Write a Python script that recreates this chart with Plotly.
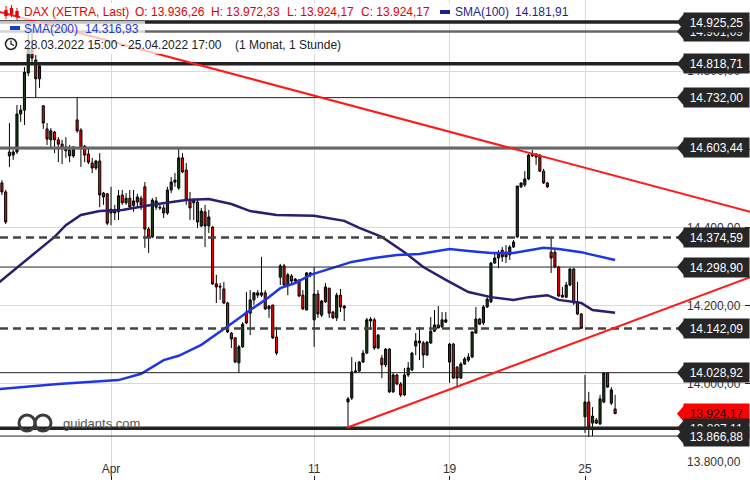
import plotly.graph_objects as go

# ---------------- data ----------------
# hourly candles 28.03.2022 15:00 ... 25.04.2022 17:00 (XETRA, 9 candles / day)
sessions = [("28.03.", 3), ("29.03.", 9), ("30.03.", 9), ("31.03.", 9), ("01.04.", 9),
            ("04.04.", 9), ("05.04.", 9), ("06.04.", 9), ("07.04.", 9), ("08.04.", 9),
            ("11.04.", 9), ("12.04.", 9), ("13.04.", 9), ("14.04.", 9),
            ("19.04.", 9), ("20.04.", 9), ("21.04.", 9), ("22.04.", 9), ("25.04.", 9)]

open_ = [14534, 14514, 14491, 14593, 14585, 14593, 14690, 14700, 14795, 14859, 14828, 14780,
         14711, 14652, 14624, 14644, 14624, 14613, 14596, 14598, 14583,
         14675, 14649, 14608, 14588, 14565, 14552, 14570, 14488, 14486,
         14437, 14437, 14440, 14483, 14463, 14475, 14456, 14465, 14475,
         14504, 14396, 14376, 14452, 14452, 14450, 14437, 14496, 14516,
         14501, 14578, 14547, 14470, 14463, 14465, 14404, 14440, 14404,
         14401, 14256, 14250, 14243, 14207, 14130, 14118, 14054, 14095,
         14184, 14181, 14215, 14227, 14233, 14233, 14192, 14202, 14120,
         14273, 14302, 14253, 14276, 14263, 14266, 14227, 14189, 14279,
         14164, 14230, 14176, 14210, 14245, 14184, 14169, 14227, 14199,
         13954, 13964, 14031, 14033, 14056, 14079, 14161, 14164, 14092,
         14066, 14049, 14089, 13980, 14023, 14000, 13972, 14023, 14036,
         14097, 14110, 14105, 14074, 14105, 14135, 14151, 14146, 14158,
         14056, 14102, 14043, 14015, 14051, 14061, 14069, 14130, 14166,
         14156, 14197, 14210, 14309, 14322, 14342, 14337, 14330, 14350,
         14376, 14504, 14509, 14524, 14583, 14588, 14585, 14544, 14514,
         14337, 14337, 14299, 14227, 14222, 14253, 14294, 14210, 14179,
         13916, 13954, 13900, 13908, 13898, 13954, 14028, 13951, 13936.26]
high = [14542, 14521, 14496, 14667, 14598, 14713, 14713, 14810, 14925.25, 14910, 14841, 14820,
        14713, 14667, 14654, 14647, 14631, 14624, 14631, 14611, 14608,
        14732, 14654, 14611, 14601, 14578, 14573, 14590, 14491, 14488,
        14504, 14458, 14496, 14496, 14488, 14496, 14496, 14486, 14481,
        14516, 14401, 14475, 14478, 14458, 14458, 14504, 14529, 14539,
        14601, 14590, 14565, 14491, 14475, 14475, 14450, 14458, 14445,
        14404, 14279, 14258, 14261, 14210, 14133, 14118, 14100, 14158,
        14235, 14240, 14235, 14240, 14325, 14240, 14202, 14202, 14146,
        14307, 14307, 14284, 14281, 14271, 14268, 14240, 14286, 14286,
        14299, 14240, 14215, 14258, 14245, 14187, 14233, 14243, 14202,
        13967, 14069, 14056, 14059, 14087, 14169, 14171, 14169, 14128,
        14074, 14092, 14092, 14028, 14026, 14005, 14041, 14056, 14082,
        14130, 14146, 14110, 14110, 14171, 14189, 14199, 14184, 14184,
        14105, 14105, 14046, 14056, 14069, 14079, 14135, 14197, 14169,
        14202, 14227, 14312, 14337, 14342, 14350, 14355, 14355, 14368,
        14506, 14514, 14544, 14588, 14598, 14590, 14588, 14550, 14516,
        14373, 14348, 14302, 14248, 14261, 14296, 14296, 14261, 14181,
        14023, 13980, 13941, 13913, 13972, 14028.92, 14028, 13992, 13972.33]
low = [14506, 14483, 14409, 14555, 14573, 14588, 14670, 14662, 14787, 14823, 14731, 14757,
       14652, 14611, 14603, 14590, 14567, 14562, 14578, 14567, 14578,
       14642, 14555, 14567, 14562, 14539, 14547, 14452, 14458, 14406,
       14406, 14419, 14419, 14458, 14458, 14450, 14440, 14450, 14445,
       14348, 14335, 14373, 14445, 14445, 14424, 14432, 14488, 14504,
       14496, 14539, 14458, 14419, 14419, 14399, 14401, 14350, 14386,
       14253, 14207, 14215, 14204, 14130, 14092, 14054, 14028, 14092,
       14153, 14125, 14202, 14220, 14222, 14189, 14169, 14115, 14074,
       14253, 14250, 14227, 14258, 14258, 14222, 14189, 14189, 14273,
       14095, 14169, 14171, 14207, 14169, 14166, 14161, 14184, 14161,
       13888, 13959, 14028, 14031, 14054, 14077, 14138, 14087, 14089,
       14015, 14043, 13977, 13977, 13997, 13967, 13969, 14018, 14033,
       14074, 14061, 14041, 14072, 14102, 14133, 14143, 14143, 14156,
       14003, 14013, 13992, 14013, 14049, 14056, 14066, 14130, 14151,
       14151, 14194, 14207, 14307, 14296, 14312, 14309, 14317, 14348,
       14373, 14501, 14504, 14521, 14580, 14560, 14542, 14511, 14501,
       14284, 14296, 14222, 14222, 14220, 14250, 14202, 14176, 14142.09,
       13875, 13865, 13866.88, 13898, 13895, 13951, 13990, 13946, 13924.17]
close = [14514, 14491, 14414, 14583, 14593, 14690, 14700, 14797, 14859, 14833, 14780, 14813,
         14667, 14626, 14647, 14624, 14613, 14603, 14606, 14583, 14606,
         14647, 14603, 14585, 14567, 14552, 14570, 14483, 14478, 14411,
         14447, 14445, 14481, 14463, 14475, 14452, 14468, 14478, 14458,
         14396, 14376, 14470, 14468, 14450, 14437, 14496, 14516, 14521,
         14578, 14542, 14470, 14450, 14470, 14414, 14442, 14404, 14427,
         14256, 14248, 14248, 14207, 14133, 14115, 14056, 14095, 14153,
         14156, 14215, 14233, 14233, 14227, 14192, 14199, 14118, 14079,
         14302, 14253, 14279, 14263, 14268, 14225, 14192, 14284, 14284,
         14230, 14179, 14212, 14248, 14181, 14169, 14227, 14197, 14194,
         13962, 14031, 14033, 14056, 14079, 14164, 14166, 14092, 14125,
         14049, 14089, 13980, 14023, 14000, 13972, 14023, 14041, 14079,
         14110, 14105, 14074, 14107, 14135, 14151, 14143, 14164, 14164,
         14102, 14015, 14015, 14051, 14064, 14069, 14133, 14166, 14153,
         14197, 14217, 14309, 14322, 14335, 14325, 14325, 14350, 14363,
         14506, 14514, 14524, 14585, 14588, 14580, 14544, 14514, 14504,
         14322, 14299, 14225, 14222, 14253, 14294, 14207, 14179, 14142.09,
         13954, 13890, 13918, 13900, 13962, 14028, 13992, 13985, 13924.17]

sma100_idx = [0, 8, 15, 18, 22, 27, 33, 41, 50, 56, 62, 67, 74, 84, 92, 96, 102, 108, 113,
              119, 125, 131, 137, 141, 146, 149, 155, 158, 164]
sma100_val = [14258, 14322, 14376, 14406, 14432, 14442, 14445, 14458, 14470, 14473, 14460,
              14442, 14432, 14430, 14417, 14399, 14376, 14337, 14299, 14266, 14235, 14222,
              14215, 14222, 14227, 14215, 14207, 14189, 14181.91]
sma200_idx = [0, 16, 32, 38, 44, 48, 54, 59, 63, 67, 71, 75, 79, 83, 89, 94, 100, 106, 112,
              120, 125, 131, 137, 145, 149, 155, 158, 164]
sma200_val = [13987, 14000, 14010, 14026, 14061, 14072, 14100, 14133, 14161, 14189, 14215,
              14245, 14258, 14279, 14296, 14312, 14322, 14330, 14332, 14345, 14340, 14335,
              14335, 14348, 14345, 14337, 14330, 14316.93]

# horizontal price levels drawn on the chart
levels = [14925.25, 14901.09, 14818.71, 14732.00, 14603.44, 14374.59, 14298.90,
          14142.09, 14028.92, 13887.11, 13866.88]
last_price = 13924.17

# trend lines (candle index, price)
down_trend_x = [0.5, 199.9]
down_trend_y = [14951, 14440]
up_trend_x = [92.7, 199.9]
up_trend_y = [13888, 14273]

tick_idx = [30, 84, 120, 156]
tick_text = ["Apr", "11", "19", "25"]
y_ticks = [13800, 14000, 14200, 14400, 14600, 14800]

# ---------------- figure ----------------
W, H = 750, 480
FONT = "Liberation Sans, Arial, sans-serif"

x = list(range(len(open_)))
hover = []
for d, n in sessions:
    start = 9 if n == 9 else 15
    for h in range(start, start + n):
        hover.append(f"{d} {h}:00")


def de(v):
    s = f"{v:,.2f}"
    return s.replace(",", "X").replace(".", ",").replace("X", ".")


def px(xp):
    return xp / W


def py(yp):
    return 1 - yp / H


fig = go.Figure()
fig.add_trace(go.Candlestick(
    x=x, open=open_, high=high, low=low, close=close, text=hover,
    increasing=dict(line=dict(color="#000000", width=1), fillcolor="#163d16"),
    decreasing=dict(line=dict(color="#000000", width=1), fillcolor="#ff0000"),
    whiskerwidth=0, showlegend=False))
fig.add_trace(go.Scatter(x=sma100_idx, y=sma100_val, mode="lines",
                         line=dict(color="#2b1d70", width=2.5), showlegend=False,
                         hoverinfo="skip"))
fig.add_trace(go.Scatter(x=sma200_idx, y=sma200_val, mode="lines",
                         line=dict(color="#1f36e6", width=2.5), showlegend=False,
                         hoverinfo="skip"))

shapes = []
annotations = []

level_style = {
    14925.25: dict(color="#222222", width=3.5),
    14901.09: dict(color="#666666", width=2.5),
    14818.71: dict(color="#222222", width=3.5),
    14732.00: dict(color="#222222", width=1),
    14603.44: dict(color="#666666", width=3),
    14374.59: dict(color="#444444", width=2.5, dash="8px,5px"),
    14298.90: dict(color="#222222", width=1),
    14142.09: dict(color="#444444", width=2.5, dash="8px,5px"),
    14028.92: dict(color="#222222", width=1),
    13887.11: dict(color="#222222", width=3.5),
    13866.88: dict(color="#222222", width=1),
}
for lv in levels:
    shapes.append(dict(type="line", xref="paper", yref="y", x0=0, x1=0.91, y0=lv, y1=lv,
                       line=level_style[lv], layer="above"))

# trend lines
shapes.append(dict(type="line", xref="x", yref="y", x0=down_trend_x[0], x1=down_trend_x[1],
                   y0=down_trend_y[0], y1=down_trend_y[1],
                   line=dict(color="#ff1a1a", width=2), layer="above"))
shapes.append(dict(type="line", xref="x", yref="y", x0=up_trend_x[0], x1=up_trend_x[1],
                   y0=up_trend_y[0], y1=up_trend_y[1],
                   line=dict(color="#ff1a1a", width=2), layer="above"))

# y axis value labels (right side, inside the plot, under the price tags)
for v in y_ticks:
    annotations.append(dict(xref="paper", yref="y", x=1, y=v, xanchor="right",
                            yanchor="middle", xshift=-7, text=de(v), showarrow=False,
                            font=dict(family=FONT, size=12, color="#333333")))


def tag(value, text, fill, fcolor):
    shapes.append(dict(type="path", xref="paper", yref="y", xsizemode="pixel",
                       ysizemode="pixel", xanchor=1, yanchor=value,
                       path="M -73,0 L -65,9.5 L -65,-9.5 Z",
                       fillcolor=fill, line=dict(width=0), layer="above"))
    annotations.append(dict(xref="paper", yref="y", x=1, y=value, xanchor="right",
                            yanchor="middle", text=text, showarrow=False, width=63,
                            height=17, borderpad=1, bgcolor=fill, align="center",
                            font=dict(family=FONT, size=12, color=fcolor)))


order = [14901.09, 14925.25, 14818.71, 14732.00, 14603.44, 14374.59, 14298.90, 14142.09,
         14028.92]
for lv in order:
    tag(lv, de(lv), "#262626", "#ffffff")
tag(last_price, de(last_price), "#ff0000", "#000000")
tag(13887.11, de(13887.11), "#262626", "#ffffff")
tag(13866.88, de(13866.88), "#262626", "#ffffff")

# header background boxes
for x0, y0, x1, y1 in [(20, 3, 572, 20), (0, 21, 145, 37), (0, 37, 345, 54)]:
    shapes.append(dict(type="rect", xref="paper", yref="paper", x0=px(x0), x1=px(x1),
                       y0=py(y1), y1=py(y0), fillcolor="rgba(255,255,255,0.72)",
                       line=dict(width=0), layer="above"))

# header candle icon
for cx, b0, b1, w0, w1 in [(6, 10, 16, 6, 19), (11.5, 8, 14, 5, 17), (17, 11, 17, 8, 20)]:
    shapes.append(dict(type="line", xref="paper", yref="paper", x0=px(cx), x1=px(cx),
                       y0=py(w1), y1=py(w0), line=dict(color="#e60000", width=1),
                       layer="above"))
    shapes.append(dict(type="rect", xref="paper", yref="paper", x0=px(cx - 1.7),
                       x1=px(cx + 1.7), y0=py(b1), y1=py(b0), fillcolor="#e60000",
                       line=dict(width=0), layer="above"))
# legend dashes
shapes.append(dict(type="rect", xref="paper", yref="paper", x0=px(440), x1=px(450),
                   y0=py(14), y1=py(10), fillcolor="#1e1e8c", line=dict(width=0),
                   layer="above"))
shapes.append(dict(type="rect", xref="paper", yref="paper", x0=px(10), x1=px(20),
                   y0=py(30), y1=py(26), fillcolor="#1a3adb", line=dict(width=0),
                   layer="above"))
# clock icon
shapes.append(dict(type="circle", xref="paper", yref="paper", x0=px(5.5), x1=px(16.5),
                   y0=py(49.5), y1=py(38.5), line=dict(color="#222222", width=1.5),
                   layer="above"))
shapes.append(dict(type="path", xref="paper", yref="paper",
                   path=f"M {px(11)},{py(40.5)} L {px(11)},{py(44)} L {px(14)},{py(45.5)}",
                   line=dict(color="#222222", width=1.3), layer="above"))
# watermark logo
for cx in (27, 43):
    shapes.append(dict(type="circle", xref="paper", yref="paper", x0=px(cx - 8),
                       x1=px(cx + 8), y0=py(431), y1=py(415),
                       line=dict(color="#3c3c3c", width=3), layer="above"))


def head(xp, yp, text, color):
    annotations.append(dict(xref="paper", yref="paper", x=px(xp), y=py(yp), xanchor="left",
                            yanchor="middle", text=text, showarrow=False,
                            font=dict(family=FONT, size=12, color=color)))


RED = "#e60000"
head(22, 12, "DAX (XETRA, Last)", RED)
head(133, 12, "O: 13.936,26", RED)
head(209, 12, "H: 13.972,33", RED)
head(285, 12, "L: 13.924,17", RED)
head(359, 12, "C: 13.924,17", RED)
head(453, 12, "SMA(100)", "#1e1e8c")
head(513, 12, "14.181,91", "#1e1e8c")
head(22, 29, "SMA(200)", "#1a3adb")
head(83, 29, "14.316,93", "#1a3adb")
head(22, 45, "28.03.2022 15:00 - 25.04.2022 17:00", "#222222")
head(233, 45, "(1 Monat, 1 Stunde)", "#222222")
annotations.append(dict(xref="paper", yref="paper", x=px(61), y=py(423), xanchor="left",
                        yanchor="middle", text="guidants.com", showarrow=False,
                        font=dict(family=FONT, size=13, color="#555555")))

fig.update_layout(
    width=W, height=H, margin=dict(l=0, r=0, t=0, b=0),
    paper_bgcolor="white", plot_bgcolor="white", separators=",.",
    boxgap=0.2, showlegend=False, shapes=shapes, annotations=annotations,
    font=dict(family=FONT, size=12, color="#333333"),
    xaxis=dict(range=[0.494, 199.86], tickvals=tick_idx, ticktext=tick_text,
               showgrid=True, gridcolor="#d9d9d9", gridwidth=1, zeroline=False,
               ticks="inside", ticklen=4, tickcolor="#222222",
               ticklabelposition="inside", rangeslider=dict(visible=False),
               tickfont=dict(family=FONT, size=12, color="#333333"), showline=False),
    yaxis=dict(range=[13754.6, 14981.5], side="right", tickvals=y_ticks,
               showticklabels=False, showgrid=True, gridcolor="#d9d9d9", zeroline=False,
               ticks="inside", ticklen=5, tickcolor="#222222", showline=False),
)

fig.write_html("out.html", config={"displayModeBar": False},
               post_script="document.body.style.margin='0';"
                           "document.body.style.overflow='hidden';")
